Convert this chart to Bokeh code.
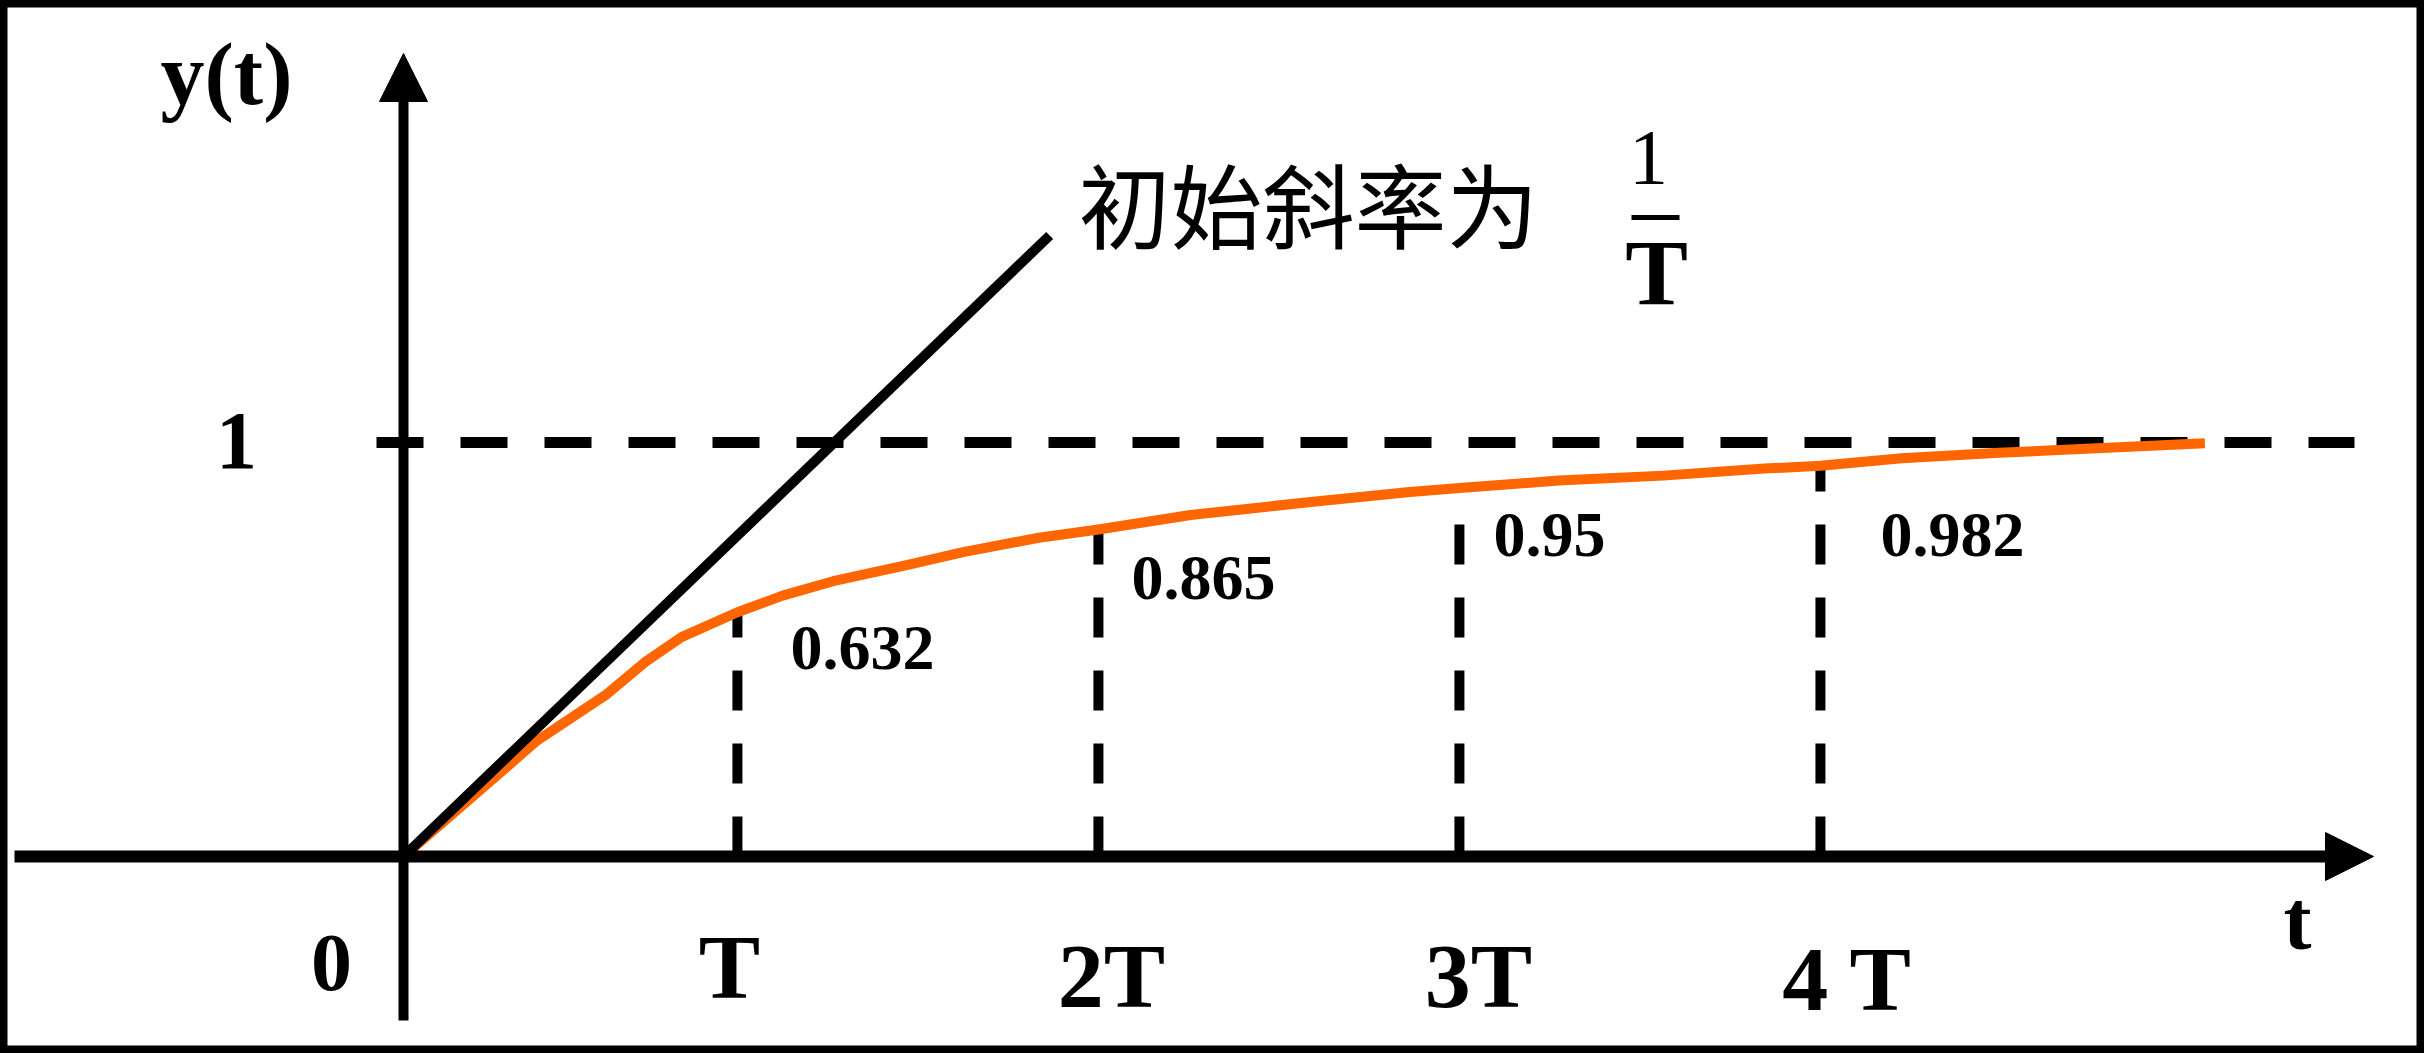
from bokeh.plotting import figure
from bokeh.models import Range1d, Arrow, NormalHead
from bokeh.embed import file_html
from bokeh.resources import INLINE
from bokeh.core.properties import value

# ---------------- data (x in units of the tick spacing, y normalised) ----------------
curve_t = [0.0, 0.37, 0.56, 0.67, 0.77, 0.925, 1.05, 1.19, 1.40, 1.55, 1.76, 1.925,
           2.18, 2.50, 2.78, 2.925, 3.20, 3.49, 3.77, 3.925, 4.15, 4.42, 4.99]
curve_y = [0.0, 0.28, 0.39, 0.47, 0.53, 0.59, 0.63, 0.665, 0.705, 0.735, 0.77, 0.79,
           0.825, 0.855, 0.88, 0.89, 0.908, 0.92, 0.937, 0.944, 0.962, 0.975, 0.998]
tick_t = [0.925, 1.925, 2.925, 3.925]
tick_labels = ["T", "2T", "3T", "4 T"]
tick_heights = [0.59, 0.79, 0.89, 0.94]
value_labels = ["0.632", "0.865", "0.95", "0.982"]
tangent_t = [0.0, 1.79]
tangent_y = [0.0, 1.50]
steady_value = 1.0
slope_text = "初始斜率为"

# ---------------- layout helpers (reference pixel -> data) ----------------
W, H = 2424, 1053
PX_X, PX_Y = 361.0, 414.0
OX, OY = 403.0, 856.0          # origin in reference pixels


def X(px):
    return (px - OX) / PX_X


def Y(py):
    return (OY - py) / PX_Y


p = figure(width=W, height=H, output_backend="svg", toolbar_location=None,
           x_range=Range1d(X(0), X(W)), y_range=Range1d(Y(H), Y(0)),
           x_axis_type=None, y_axis_type=None, min_border=0)
p.grid.visible = False
p.background_fill_color = "white"
p.border_fill_color = "white"
p.outline_line_color = "black"
p.outline_line_width = 14

SERIF = value("Liberation Serif")

# dashed steady-state line
p.line([X(376), X(2354)], [steady_value, steady_value], line_color="black",
       line_width=11, line_dash="47 37")

# dashed verticals at T, 2T, 3T, 4T
for t, h in zip(tick_t, tick_heights):
    p.line([t, t], [0, h], line_color="black", line_width=10, line_dash="40 33")

# response curve
p.line(curve_t, curve_y, line_color="#ff6600", line_width=10, line_join="round")

# initial slope (tangent)
p.line(tangent_t, tangent_y, line_color="black", line_width=10)

# axes with arrowheads
p.segment(x0=[X(14)], y0=[0], x1=[X(2335)], y1=[0], line_color="black", line_width=12)
p.segment(x0=[0], y0=[Y(1020)], x1=[0], y1=[Y(85)], line_color="black", line_width=10)
p.add_layout(Arrow(end=NormalHead(size=48, fill_color="black", line_color="black", line_width=1),
                   x_start=X(2330), y_start=0, x_end=X(2373), y_end=0,
                   line_color="black", line_width=2))
p.add_layout(Arrow(end=NormalHead(size=48, fill_color="black", line_color="black", line_width=1),
                   x_start=0, y_start=Y(90), x_end=0, y_end=Y(53),
                   line_color="black", line_width=2))


def label(px, py, txt, size, bold=True, align="center", font=SERIF):
    p.text(x=[X(px)], y=[Y(py)], text=[txt], text_font=font,
           text_font_style="bold" if bold else "normal", text_font_size=size,
           text_align=align, text_baseline="middle", text_color="black")


# axis titles and origin / level labels
label(226, 74, "y(t)", "88px")
label(2297, 920, "t", "84px")
label(331, 962, "0", "82px")
label(236, 440, "1", "82px")

# tick labels
tick_label_dx = [-8, 13, 19, 27]
tick_label_cy = [966, 975, 975, 978]
p.text(x=[t + d / PX_X for t, d in zip(tick_t, tick_label_dx)],
       y=[Y(c) for c in tick_label_cy], text=tick_labels, text_font=SERIF,
       text_font_style="bold", text_font_size="92px", text_align="center",
       text_baseline="middle", text_color="black")

# value labels
val_dx = [53, 33, 34, 60]
val_cy = [647, 577, 534, 534]
p.text(x=[t + d / PX_X for t, d in zip(tick_t, val_dx)], y=[Y(c) for c in val_cy],
       text=value_labels, text_font=SERIF, text_font_style="bold", text_font_size="64px",
       text_align="left", text_baseline="middle", text_color="black")

# slope annotation
label(1078, 201, slope_text, "92px", bold=False, align="left", font=value("Noto Sans CJK SC"))
label(1648, 157, "1", "78px", bold=False)
p.segment(x0=[X(1631)], y0=[Y(217)], x1=[X(1679)], y1=[Y(217)], line_color="black", line_width=5)
label(1656, 271, "T", "94px")

open("out.html", "w").write(file_html(p, INLINE))
